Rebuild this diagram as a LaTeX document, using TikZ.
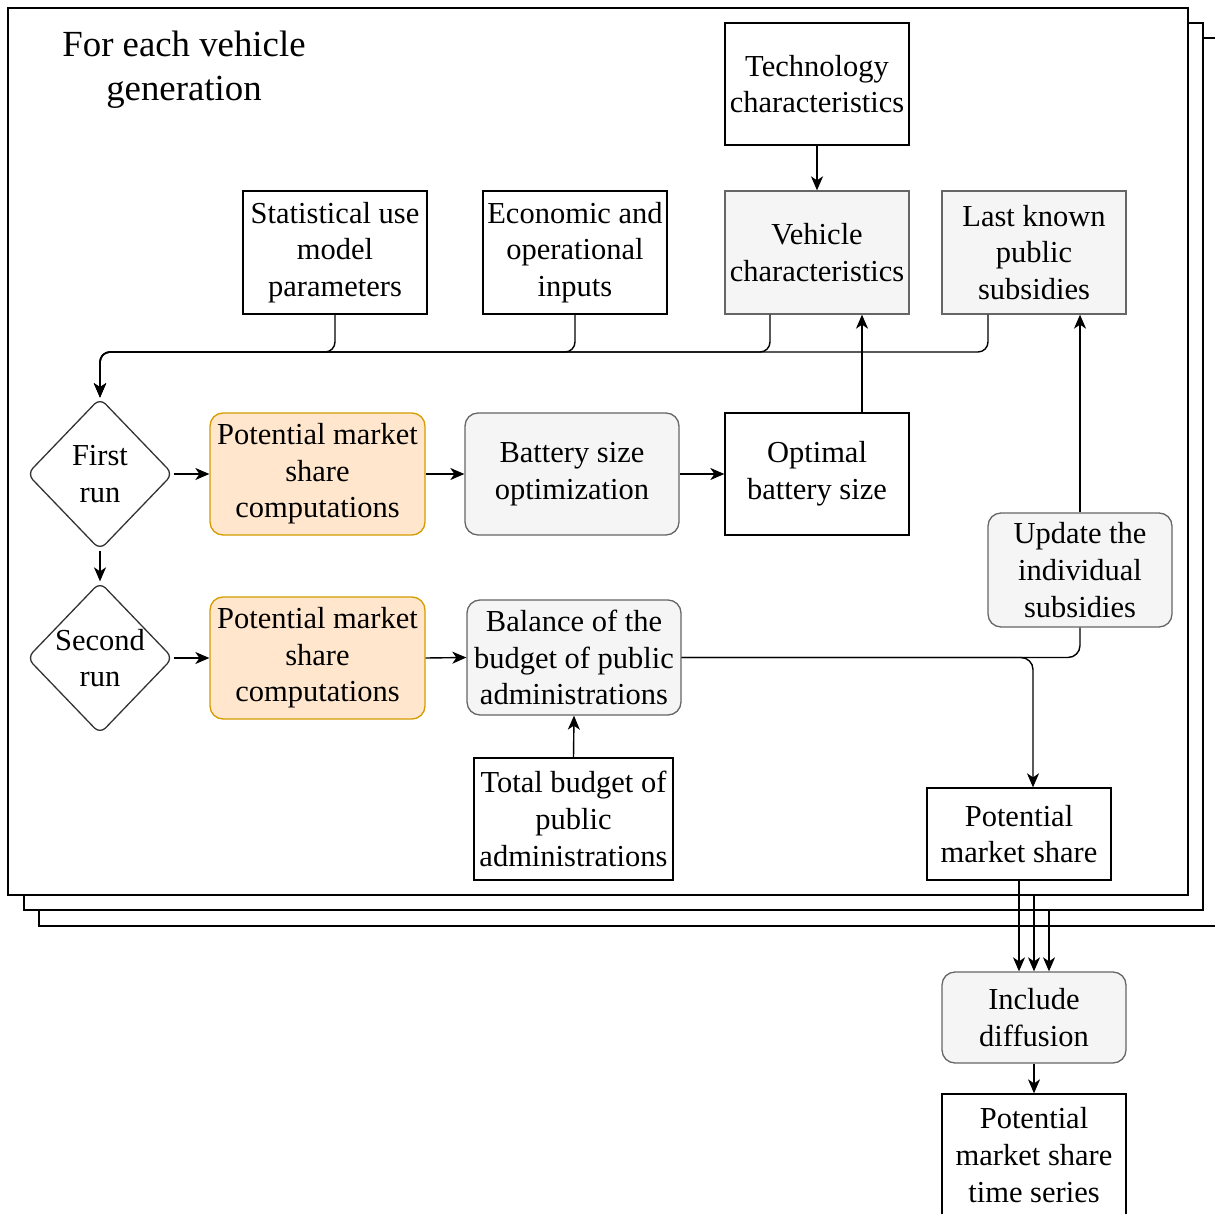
\documentclass[tikz,border=0pt]{standalone}
\usepackage{fontspec}
\setmainfont{Liberation Serif}
\usetikzlibrary{arrows.meta,shapes.geometric,calc}
\definecolor{grayfill}{HTML}{F5F5F5}
\definecolor{grayline}{HTML}{666666}
\definecolor{orfill}{HTML}{FFE6CC}
\definecolor{orline}{HTML}{D79B00}
\tikzset{
 base/.style={font=\fontsize{30.5}{36.6}\selectfont, align=center, inner sep=0pt, line width=1.3pt},
 wbox/.style={base, draw=black, fill=white},
 gbox/.style={base, draw=grayline, fill=grayfill},
 grbox/.style={gbox, rounded corners=13pt},
 obox/.style={base, draw=orline, fill=orfill, rounded corners=13pt},
 dia/.style={diamond, draw=black!80, fill=white, line width=1.3pt, rounded corners=8pt, minimum width=146pt, minimum height=152pt, inner sep=0pt},
 arr/.style={line width=1.4pt, -{Stealth[length=14pt,width=12pt,inset=4pt]}},
 ln/.style={line width=1.4pt},
 frame/.style={draw=black, fill=white, line width=1.3pt}
}
\begin{document}
\begin{tikzpicture}[x=1pt,y=-1pt]
\useasboundingbox (0,0) rectangle (1215,1214);
% stacked frames
\draw[frame] (39,38) rectangle (1240,926);
\draw[frame] (24,23) rectangle (1203,910);
\draw[frame] (8,8) rectangle (1188,895);
\coordinate (f1b) at (1034,895);
\coordinate (f2b) at (1049,910);

\node[font=\fontsize{36.8}{44}\selectfont, align=center, inner sep=0pt] (title) at (184,70) {For each vehicle\\generation};

\node[wbox, minimum width=184pt, minimum height=122pt] (tech) at (817,84) {Technology\\characteristics};
\node[wbox, minimum width=184pt, minimum height=123pt] (stat) at (335,252.5) {Statistical use\\model\\parameters};
\node[wbox, minimum width=184pt, minimum height=123pt] (econ) at (575,252.5) {Economic and\\operational\\inputs};
\node[gbox, minimum width=184pt, minimum height=123pt] (veh) at (817,252.5) {Vehicle\\characteristics};
\node[gbox, minimum width=184pt, minimum height=123pt] (last) at (1034,252.5) {Last known\\public\\subsidies};

\node[dia] (first) at (100,474) {};
\node[base] (firsttxt) at (first) {First\\run};
\node[obox, minimum width=215pt, minimum height=122pt] (pmsa) at (317.5,474) {Potential market\\share\\computations};
\node[grbox, minimum width=214pt, minimum height=122pt] (bat) at (572,474) {Battery size\\optimization};
\node[wbox, minimum width=184pt, minimum height=122pt] (opt) at (817,474) {Optimal\\battery size};
\node[grbox, minimum width=184pt, minimum height=114pt] (upd) at (1080,570) {Update the\\individual\\subsidies};

\node[dia] (second) at (100,658) {};
\node[base] (secondtxt) at (second) {Second\\run};
\node[obox, minimum width=215pt, minimum height=122pt] (pmsb) at (317.5,658) {Potential market\\share\\computations};
\node[grbox, minimum width=214pt, minimum height=115pt] (bal) at (574,657.5) {Balance of the\\budget of public\\administrations};
\node[wbox, minimum width=199pt, minimum height=122pt] (tot) at (573.5,819) {Total budget of\\public\\administrations};
\node[wbox, minimum width=184pt, minimum height=92pt] (pms) at (1019,834) {Potential\\market share};
\node[grbox, minimum width=184pt, minimum height=91pt] (inc) at (1034,1017.5) {Include\\diffusion};
\node[wbox, minimum width=184pt, minimum height=122pt] (ts) at (1034,1155) {Potential\\market share\\time series};

\coordinate (merge) at (100,352);
\draw[arr, rounded corners=10pt] (stat.south) |- (merge) -- (first.north);
\draw[arr, rounded corners=10pt] (econ.south) |- (merge) -- (first.north);
\draw[arr, rounded corners=10pt] ([xshift=-47pt]veh.south) |- (merge) -- (first.north);
\draw[arr, rounded corners=10pt] ([xshift=-46pt]last.south) |- (merge) -- (first.north);

\draw[arr] (tech.south) -- (veh.north);
\draw[arr] ([xshift=45pt]opt.north) -- ([xshift=45pt]veh.south);
\draw[arr] (upd.north) -- (upd.north |- last.south);

\draw[arr] (first.east) -- (pmsa.west);
\draw[arr] (pmsa.east) -- (bat.west);
\draw[arr] (bat.east) -- (opt.west);
\draw[arr] (first.south) -- (second.north);
\draw[arr] (second.east) -- (pmsb.west);
\draw[arr] (pmsb.east) -- (bal.west);
\draw[arr] (tot.north) -- (bal.south);

\draw[ln, rounded corners=12pt] (bal.east) -| (upd.south);
\draw[arr, rounded corners=12pt] (bal.east) -| ([xshift=14pt]pms.north);

\draw[arr] (pms.south) -- (pms.south |- inc.north);
\draw[arr] (f1b) -- (inc.north);
\draw[arr] (f2b) -- (f2b |- inc.north);
\draw[arr] (inc.south) -- (ts.north);
\end{tikzpicture}
\end{document}
